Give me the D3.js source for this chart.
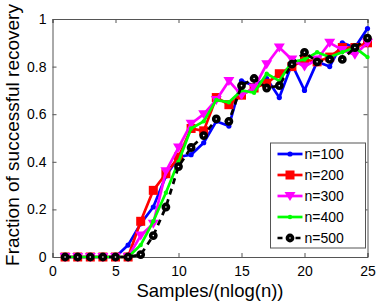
<!DOCTYPE html>
<html>
<head>
<meta charset="utf-8">
<script src="https://cdn.jsdelivr.net/npm/d3@7"></script>
<style>
  body { margin: 0; background: #fff; }
  text { font-family: "Liberation Sans", Arial, sans-serif; }
</style>
</head>
<body>
<div id="chart"></div>
<script>
// data
var samples = d3.range(1, 26);
var n100 = [0,0,0,0,0,0.05,0.14,0.21,0.34,0.42,0.43,0.48,0.57,0.55,0.74,0.72,0.75,0.67,0.81,0.70,0.82,0.80,0.90,0.88,0.96];
var n200 = [0,0,0,0,0,0,0.15,0.28,0.35,0.42,0.54,0.53,0.67,0.64,0.68,0.71,0.73,0.77,0.80,0.83,0.82,0.84,0.88,0.88,0.90];
var n300 = [0,0,0,0,0,0,0.09,0.14,0.36,0.46,0.56,0.60,0.66,0.74,0.68,0.71,0.81,0.88,0.83,0.80,0.83,0.90,0.87,0.85,0.90];
var n400 = [0,0,0,0,0,0,0.05,0.15,0.27,0.40,0.54,0.57,0.66,0.65,0.70,0.69,0.77,0.74,0.82,0.83,0.86,0.84,0.86,0.88,0.84];
var n500 = [0,0,0,0,0,0,0.01,0.09,0.21,0.38,0.46,0.51,0.58,0.57,0.72,0.75,0.71,0.72,0.81,0.86,0.82,0.83,0.83,0.88,0.92];
var seriesNames = ["n=100", "n=200", "n=300", "n=400", "n=500"];
var xTicks = [0, 5, 10, 15, 20, 25];
var yTicks = [0, 0.2, 0.4, 0.6, 0.8, 1];

var series = [
  { name: seriesNames[0], values: n100, color: "#0000ff", marker: "dot" },
  { name: seriesNames[1], values: n200, color: "#ff0000", marker: "square" },
  { name: seriesNames[2], values: n300, color: "#ff00ff", marker: "tri" },
  { name: seriesNames[3], values: n400, color: "#00ff00", marker: "dot2" },
  { name: seriesNames[4], values: n500, color: "#000000", marker: "circle", dash: "6,5" }
];

var W = 382, H = 306;
var margin = { top: 19, right: 14.5, bottom: 49, left: 52.5 },
  width = W - margin.left - margin.right,
  height = H - margin.top - margin.bottom;

var svg = d3.select("#chart").append("svg")
  .attr("width", W)
  .attr("height", H);

var g = svg.append("g")
  .attr("transform", "translate(" + margin.left + "," + margin.top + ")");

var x = d3.scaleLinear().domain([0, 25]).range([0, width]);
var y = d3.scaleLinear().domain([0, 1]).range([height, 0]);

// axes (ticks inside, like matlab)
var fmt = function(d) { return d === 0 || d === 1 ? d3.format("d")(d) : d3.format(".1f")(d); };

g.append("g")
  .attr("transform", "translate(0," + height + ")")
  .call(d3.axisBottom(x).tickValues(xTicks).tickSize(-4).tickPadding(9).tickFormat(d3.format("d")));
g.append("g")
  .call(d3.axisLeft(y).tickValues(yTicks).tickSize(-4).tickPadding(6).tickFormat(fmt));
g.append("g")
  .call(d3.axisTop(x).tickValues(xTicks).tickSize(-4).tickFormat(""));
g.append("g")
  .attr("transform", "translate(" + width + ",0)")
  .call(d3.axisRight(y).tickValues(yTicks).tickSize(-4).tickFormat(""));

g.selectAll(".domain").attr("stroke", "#555").attr("stroke-width", 1);
g.selectAll(".tick line").attr("stroke", "#555");
g.selectAll(".tick text").attr("font-size", 14).attr("fill", "#000")
  .style("font-family", "'Liberation Sans', Arial, sans-serif");

// lines
var line = d3.line()
  .x(function(d, i) { return x(samples[i]); })
  .y(function(d) { return y(d); });

function drawMarker(sel, type, color, px, py) {
  if (type === "dot") {
    sel.append("circle").attr("cx", px).attr("cy", py).attr("r", 2.6).attr("fill", color);
  } else if (type === "dot2") {
    sel.append("circle").attr("cx", px).attr("cy", py).attr("r", 2.2).attr("fill", color);
  } else if (type === "square") {
    sel.append("rect").attr("x", px - 4.5).attr("y", py - 4.5).attr("width", 9).attr("height", 9).attr("fill", color);
  } else if (type === "tri") {
    sel.append("path")
      .attr("d", "M" + (px - 5.5) + "," + (py - 4) + "L" + (px + 5.5) + "," + (py - 4) + "L" + px + "," + (py + 5) + "Z")
      .attr("fill", color);
  } else if (type === "circle") {
    sel.append("circle").attr("cx", px).attr("cy", py).attr("r", 2.6)
      .attr("fill", "#fff").attr("stroke", color).attr("stroke-width", 3.6);
  }
}

series.forEach(function(s) {
  var sg = g.append("g");
  sg.append("path")
    .datum(s.values)
    .attr("fill", "none")
    .attr("stroke", s.color)
    .attr("stroke-width", 2.7)
    .attr("stroke-linejoin", "round")
    .attr("stroke-dasharray", s.dash || null)
    .attr("d", line);
  s.values.forEach(function(v, i) {
    drawMarker(sg, s.marker, s.color, x(samples[i]), y(v));
  });
});

// legend
var lg = svg.append("g").attr("transform", "translate(270.5,143)");
lg.append("rect")
  .attr("width", 95).attr("height", 105)
  .attr("fill", "#fff").attr("stroke", "#555").attr("stroke-width", 1);
series.forEach(function(s, i) {
  var ly = 11 + i * 21;
  lg.append("line")
    .attr("x1", 7).attr("x2", 32).attr("y1", ly).attr("y2", ly)
    .attr("stroke", s.color).attr("stroke-width", 2.7)
    .attr("stroke-dasharray", s.dash ? "5,4" : null);
  drawMarker(lg, s.marker, s.color, 19.5, ly);
  lg.append("text")
    .attr("x", 34).attr("y", ly + 5)
    .attr("font-size", 14)
    .text(s.name);
});

// axis titles
svg.append("text")
  .attr("x", margin.left + width / 2)
  .attr("y", 296.5)
  .attr("text-anchor", "middle")
  .attr("font-size", 18.5)
  .text("Samples/(nlog(n))");

svg.append("text")
  .attr("transform", "translate(19,135) rotate(-90)")
  .attr("text-anchor", "middle")
  .attr("font-size", 19)
  .text("Fraction of successful recovery");
</script>
</body>
</html>
